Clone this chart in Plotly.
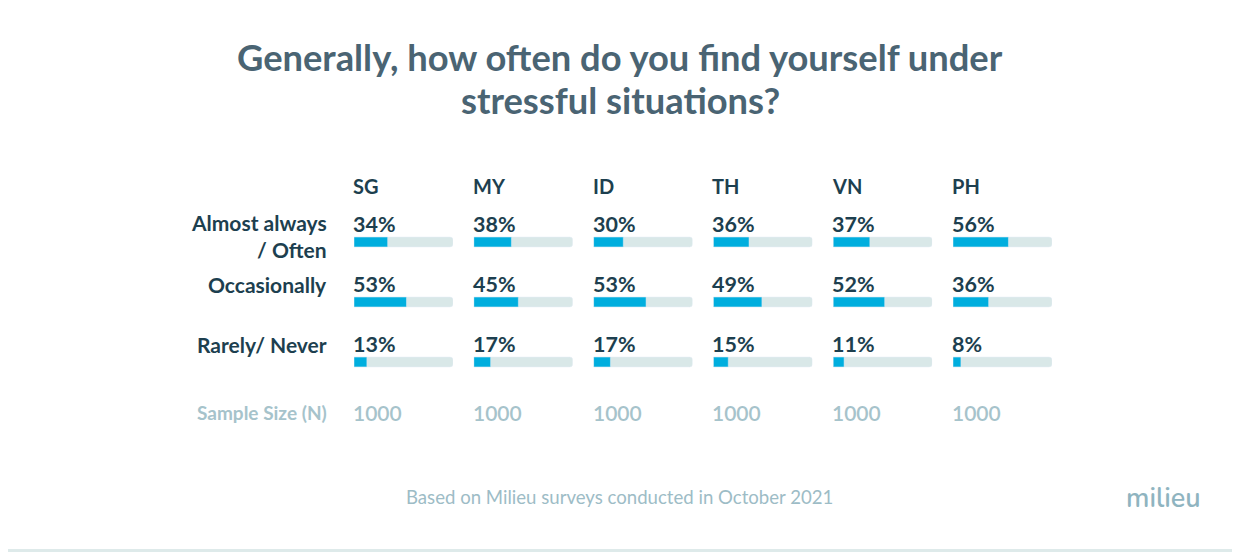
import plotly.graph_objects as go

countries = ["SG", "MY", "ID", "TH", "VN", "PH"]
row_labels = ["Almost always<br>/ Often", "Occasionally", "Rarely/ Never"]
values = {
    "SG": [34, 53, 13],
    "MY": [38, 45, 17],
    "ID": [30, 53, 17],
    "TH": [36, 49, 15],
    "VN": [37, 52, 11],
    "PH": [56, 36, 8],
}
sample_sizes = [1000, 1000, 1000, 1000, 1000, 1000]
title_lines = ["Generally, how often do you find yourself under", "stressful situations?"]
footer_text = "Based on Milieu surveys conducted in October 2021"

OFF = 8  # page body offset
W, H = 1240 - OFF, 552 - OFF
BLUE = "#00aede"
TRACK = "#d9e8e8"
DARK = "#1d3f4f"
LIGHT = "#a6c3cb"
FONT = "Lato"


def px(xp):
    return (xp - OFF) / W


def py(yp):
    return 1 - (yp - OFF) / H


fig = go.Figure()

col_left = 354
col_step = 119.8
col_w = 99
y_top_px, y_bot_px = 212, 392

layout_axes = {}
ys = list(range(len(row_labels)))
for i, c in enumerate(countries):
    ax = "x" if i == 0 else f"x{i+1}"
    axname = "xaxis" if i == 0 else f"xaxis{i+1}"
    x0 = px(col_left + col_step * i)
    x1 = px(col_left + col_step * i + col_w)
    layout_axes[axname] = dict(domain=[x0, x1], range=[0, 100], visible=False,
                               fixedrange=True, anchor="y")
    fig.add_trace(go.Bar(x=[100] * len(ys), y=ys, orientation="h", xaxis=ax, yaxis="y",
                         marker=dict(color=TRACK, cornerradius=3), width=0.165,
                         hoverinfo="skip", showlegend=False))
    fig.add_trace(go.Bar(x=values[c], y=ys, orientation="h", xaxis=ax, yaxis="y",
                         marker=dict(color=BLUE, cornerradius=3), width=0.165,
                         hoverinfo="skip", showlegend=False))
    # header
    fig.add_annotation(x=0, y=-0.5, xref=ax, yref="y", text=c, showarrow=False,
                       xanchor="left", yanchor="middle", yshift=26, xshift=-3,
                       font=dict(family=FONT, size=20, color=DARK, weight=700))
    # percent labels
    for j, v in enumerate(values[c]):
        fig.add_annotation(x=0, y=j, xref=ax, yref="y", text=f"{v}%", showarrow=False,
                           xanchor="left", yanchor="middle", yshift=18, xshift=-3,
                           font=dict(family=FONT, size=21.5, color=DARK, weight=700))
    # sample size
    fig.add_annotation(x=0, y=2, xref=ax, yref="y", text=str(sample_sizes[i]), showarrow=False,
                       xanchor="left", yanchor="middle", yshift=-50, xshift=-3,
                       font=dict(family=FONT, size=21, color=LIGHT, weight=600))

# row labels
for j, lab in enumerate(row_labels):
    ys_shift = 18 if j > 0 else 6
    fig.add_annotation(x=px(329), y=j, xref="paper", yref="y", text=lab, showarrow=False,
                       xanchor="right", yanchor="middle", yshift=ys_shift, align="right",
                       font=dict(family=FONT, size=21, color=DARK, weight=700))
fig.add_annotation(x=px(329), y=2, xref="paper", yref="y", text="Sample Size (N)", showarrow=False,
                   xanchor="right", yanchor="middle", yshift=-50,
                   font=dict(family=FONT, size=19, color=LIGHT, weight=700))

# title
for k, (line, yc) in enumerate(zip(title_lines, [57, 100])):
    fig.add_annotation(x=px(620), y=py(yc), xref="paper", yref="paper", text=line,
                       showarrow=False, xanchor="center", yanchor="middle",
                       font=dict(family=FONT, size=36.3, color="#4a6473", weight=700))

# footer
fig.add_annotation(x=px(619), y=py(497), xref="paper", yref="paper", text=footer_text,
                   showarrow=False, xanchor="center", yanchor="middle",
                   font=dict(family=FONT, size=18.6, color="#9dbcc6"))
fig.add_annotation(x=px(1163), y=py(498), xref="paper", yref="paper", text="milieu",
                   showarrow=False, xanchor="center", yanchor="middle",
                   font=dict(family="Nunito, Lato", size=27, color="#8fb4c0", weight=600))

fig.add_shape(type="rect", xref="paper", yref="paper", x0=0, x1=1, y0=0, y1=py(549),
              fillcolor="#deeaea", line=dict(width=0), layer="below")

fig.update_layout(
    width=W, height=H,
    margin=dict(l=0, r=0, t=0, b=0),
    paper_bgcolor="white", plot_bgcolor="white",
    barmode="overlay",
    yaxis=dict(domain=[py(y_bot_px), py(y_top_px)], range=[2.5, -0.5],
               visible=False, fixedrange=True),
    **layout_axes,
)

fig.write_html("out.html")
